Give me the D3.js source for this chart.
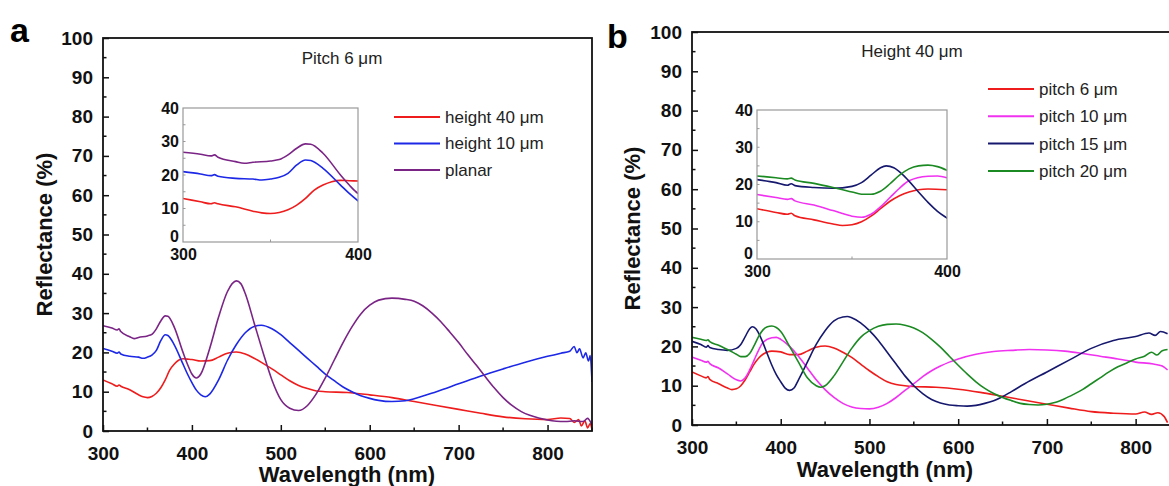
<!DOCTYPE html>
<html>
<head>
<meta charset="utf-8">
<script src="https://cdn.jsdelivr.net/npm/d3@7"></script>
<style>
  body { margin: 0; background: #fff; }
  svg { display: block; font-family: "Liberation Sans", Arial, sans-serif; }
</style>
</head>
<body>
<svg id="chart" width="1169" height="486"></svg>
<script>

// ---- data: [wavelength nm, reflectance %] ----
var aHeight40 = [[300,13],[310,12],[316,11.4],[318,11.7],[320,11.4],[330,10.5],[340,9.2],[345,8.7],[350,8.5],[355,8.8],[360,9.6],[365,11],[370,13],[375,15.5],[380,17],[385,18],[390,18.4],[395,18.3],[400,18.2],[410,17.8],[420,17.9],[430,18.8],[440,19.8],[450,20.1],[460,19.6],[470,18.5],[480,17.2],[490,15.8],[500,14.3],[510,12.8],[520,11.6],[530,10.8],[540,10.2],[550,10],[575,9.8],[600,9.2],[625,8.5],[650,7.5],[675,6.5],[700,5.5],[725,4.5],[750,3.6],[775,3.1],[800,2.9],[815,3.3],[825,3.2],[830,2.2],[835,2.9],[838,1.3],[842,2.6],[845,0.8],[848,1.9],[850,0.3]];
var aHeight10 = [[300,21],[310,20.3],[316,19.8],[318,20.1],[320,19.6],[330,19],[340,18.8],[345,18.5],[350,18.8],[355,19.3],[360,20.5],[365,23],[370,24.5],[373,24.3],[380,22],[390,17],[395,14.5],[400,12.3],[405,10.4],[410,9.2],[415,8.7],[420,9.4],[430,13],[440,18],[450,22],[460,25],[470,26.6],[478,26.9],[490,26],[500,24.5],[510,22.5],[520,20.5],[530,18.5],[540,16.5],[550,14.5],[560,12.8],[570,11.2],[580,10],[590,9],[600,8.3],[610,7.8],[625,7.5],[640,7.7],[650,8.2],[675,10],[700,12],[725,14],[750,15.8],[775,17.5],[800,19],[815,19.8],[825,20.3],[830,21.5],[833,19.9],[836,20.9],[840,18.6],[843,19.9],[846,17.8],[848,19.2],[850,12.5]];
var aPlanar = [[300,26.8],[310,26.2],[316,25.7],[318,26],[320,25.3],[330,24],[335,23.5],[340,23.8],[350,24.2],[355,24.6],[360,26],[365,28],[370,29.3],[373,29.2],[380,26.5],[390,20],[395,17],[400,14.5],[405,13.5],[410,14.5],[420,21],[430,29],[440,35.5],[450,38.2],[455,37.5],[460,35],[470,27.5],[480,20],[490,13],[500,8],[510,5.8],[520,5.2],[530,6.5],[540,9.5],[550,13.5],[560,18],[570,22.5],[580,26.5],[590,29.8],[600,32],[610,33.3],[625,33.8],[640,33.5],[650,33],[660,31.8],[670,30],[680,27.8],[690,25.2],[700,22.5],[710,19.5],[720,16.7],[730,13.8],[740,11],[750,8.5],[760,6.5],[770,5],[780,4],[790,3.3],[800,2.8],[810,2.5],[820,2.4],[830,2.6],[840,2.4],[845,3.2],[850,1.5]];

var bPitch6 = [[300,13.5],[310,12.5],[316,12],[318,12.3],[320,11.6],[330,10.5],[340,9.4],[345,9],[350,9.2],[355,10],[360,11.5],[365,13.5],[370,15.5],[375,17],[380,18],[385,18.6],[390,18.8],[400,18.6],[410,17.9],[420,17.9],[430,18.8],[440,19.8],[450,20.1],[460,19.6],[470,18.5],[480,17.2],[490,15.5],[500,13.8],[510,12.3],[520,11],[530,10.3],[540,10],[550,9.8],[575,9.6],[600,9.1],[625,8.3],[650,7.3],[675,6.3],[700,5.3],[725,4.3],[750,3.4],[775,3],[800,2.8],[810,3.3],[818,2.7],[825,3.1],[832,2.2],[836,0.6]];
var bPitch10 = [[300,17.3],[310,16.5],[316,16],[318,16.2],[320,15.6],[330,14.5],[340,13],[350,11.5],[355,11.2],[360,12],[365,14],[370,16.5],[375,19],[380,21],[390,22.2],[395,22.3],[400,21.8],[410,20],[420,17.5],[430,14.5],[440,11.5],[450,9],[460,7],[470,5.5],[480,4.6],[490,4.2],[500,4.1],[510,4.5],[520,5.5],[530,7],[540,8.8],[550,10.5],[560,12.3],[570,13.8],[580,15],[590,16],[600,16.8],[620,18],[640,18.7],[660,19],[680,19.2],[700,19.1],[720,18.8],[740,18.2],[760,17.5],[780,16.8],[800,16],[820,15.5],[830,15],[836,14]];
var bPitch15 = [[300,21.3],[310,20.5],[316,19.8],[318,20.2],[320,19.7],[330,19.2],[340,19],[350,19.5],[355,20.5],[360,22.5],[365,24.5],[368,25],[372,24.5],[378,22],[385,18],[390,15.2],[395,12.8],[400,11],[405,9.4],[410,8.8],[415,9.4],[420,11.5],[430,16],[440,20.5],[450,24],[460,26.5],[470,27.5],[475,27.6],[480,27.3],[490,26],[500,24],[510,21.5],[520,18.5],[530,15.5],[540,12.5],[550,10],[560,8],[570,6.5],[580,5.6],[590,5.1],[600,4.9],[610,4.8],[620,5],[630,5.5],[640,6.2],[650,7.2],[660,8.5],[675,10.5],[700,13.5],[725,16.5],[750,19.5],[775,21.5],[800,22.5],[815,23.4],[822,22.8],[828,23.8],[836,23.2]];
var bPitch20 = [[300,22.3],[310,21.8],[316,21.5],[318,21.7],[320,21.2],[330,20.3],[340,19.2],[350,18],[355,17.4],[360,17.4],[365,18.2],[370,20.2],[375,22.5],[380,24.2],[385,25],[390,25.2],[395,24.8],[400,23.8],[410,20],[420,16],[430,12],[440,10],[445,9.6],[450,10],[460,12.5],[470,16],[480,19.5],[490,22.3],[500,24],[510,25.1],[520,25.6],[530,25.7],[540,25.4],[550,24.7],[560,23.5],[570,21.8],[580,19.8],[590,17.5],[600,15.2],[610,13],[620,11],[630,9.3],[640,8],[650,7],[660,6.2],[670,5.5],[680,5.2],[690,5.1],[700,5.3],[710,5.8],[720,6.7],[730,7.8],[740,9],[750,10.5],[760,12],[770,13.5],[780,14.8],[790,15.8],[800,16.8],[810,17.5],[818,18.5],[824,17.8],[830,18.9],[836,19.2]];

var panelASeries = [
  { name: "height 40 \u03bcm", color: "#ee1c1c", values: aHeight40 },
  { name: "height 10 \u03bcm", color: "#1c28e6", values: aHeight10 },
  { name: "planar",          color: "#7a2486", values: aPlanar }
];
var panelBSeries = [
  { name: "pitch 6 \u03bcm",  color: "#ee1c1c", values: bPitch6 },
  { name: "pitch 10 \u03bcm", color: "#f032f0", values: bPitch10 },
  { name: "pitch 15 \u03bcm", color: "#16186e", values: bPitch15 },
  { name: "pitch 20 \u03bcm", color: "#1b8a22", values: bPitch20 }
];

var xTicks = [300, 400, 500, 600, 700, 800];
var yTicks = [0, 10, 20, 30, 40, 50, 60, 70, 80, 90, 100];
var insetXTicks = [300, 400];
var insetYTicks = [0, 10, 20, 30, 40];

var svg = d3.select("#chart");
var clipId = 0;

function drawPanel(p) {
  var g = svg.append("g");
  var x = d3.scaleLinear().domain([300, 850]).range([p.left, p.right]);
  var y = d3.scaleLinear().domain([0, 100]).range([p.bottom, p.top]);

  // inward ticks, majors + minors
  var xAxis = d3.axisBottom(x).tickValues(xTicks).tickSizeInner(-6).tickSizeOuter(0).tickPadding(22);
  var yAxis = d3.axisLeft(y).tickValues(yTicks).tickSizeInner(-6).tickSizeOuter(0).tickPadding(10);

  var gx = g.append("g").attr("transform", "translate(0," + p.bottom + ")").call(xAxis);
  var gy = g.append("g").attr("transform", "translate(" + p.left + ",0)").call(yAxis);
  [gx, gy].forEach(function(a) {
    a.select(".domain").remove();
    a.selectAll("line").attr("stroke", "#111").attr("stroke-width", 1.5);
    a.selectAll("text").attr("font-size", 19).attr("font-weight", "bold").attr("fill", "#111");
  });
  gx.selectAll("text").attr("dy", "0.35em");

  g.append("g").selectAll("line").data(d3.range(350, 851, 100)).join("line")
    .attr("x1", function(d) { return x(d); }).attr("x2", function(d) { return x(d); })
    .attr("y1", p.bottom).attr("y2", p.bottom - 3.5)
    .attr("stroke", "#111").attr("stroke-width", 1.5);
  g.append("g").selectAll("line").data(d3.range(5, 100, 10)).join("line")
    .attr("x1", p.left).attr("x2", p.left + 3.5)
    .attr("y1", function(d) { return y(d); }).attr("y2", function(d) { return y(d); })
    .attr("stroke", "#111").attr("stroke-width", 1.5);

  // curves
  var cid = "clip" + (clipId++);
  svg.append("clipPath").attr("id", cid).append("rect")
    .attr("x", p.left).attr("y", p.top).attr("width", p.right - p.left).attr("height", p.bottom - p.top);
  var line = d3.line().curve(d3.curveMonotoneX)
    .x(function(d) { return x(d[0]); }).y(function(d) { return y(d[1]); });
  g.append("g").attr("clip-path", "url(#" + cid + ")").selectAll("path").data(p.series).join("path")
    .attr("d", function(s) { return line(s.values); })
    .attr("fill", "none").attr("stroke", function(s) { return s.color; }).attr("stroke-width", 1.6);

  // frame
  g.append("rect").attr("x", p.left).attr("y", p.top)
    .attr("width", p.right - p.left).attr("height", p.bottom - p.top)
    .attr("fill", "none").attr("stroke", "#111").attr("stroke-width", 1.8);

  // inset
  var ix = d3.scaleLinear().domain([300, 400]).range([p.inset.left, p.inset.right]);
  var iy = d3.scaleLinear().domain([0, 40]).range([p.inset.bottom, p.inset.top]);
  g.append("rect").attr("x", p.inset.left).attr("y", p.inset.top)
    .attr("width", p.inset.right - p.inset.left).attr("height", p.inset.bottom - p.inset.top)
    .attr("fill", "#fff");
  var iid = "clip" + (clipId++);
  svg.append("clipPath").attr("id", iid).append("rect")
    .attr("x", p.inset.left).attr("y", p.inset.top)
    .attr("width", p.inset.right - p.inset.left).attr("height", p.inset.bottom - p.inset.top);
  var iline = d3.line().curve(d3.curveMonotoneX)
    .x(function(d) { return ix(d[0]); }).y(function(d) { return iy(d[1]); });
  g.append("g").attr("clip-path", "url(#" + iid + ")").selectAll("path").data(p.series).join("path")
    .attr("d", function(s) { return iline(s.values.filter(function(v) { return v[0] <= 405; })); })
    .attr("fill", "none").attr("stroke", function(s) { return s.color; }).attr("stroke-width", 1.6);

  var igx = g.append("g").attr("transform", "translate(0," + p.inset.bottom + ")")
    .call(d3.axisBottom(ix).tickValues(insetXTicks).tickSize(0).tickPadding(7));
  var igy = g.append("g").attr("transform", "translate(" + p.inset.left + ",0)")
    .call(d3.axisLeft(iy).tickValues(insetYTicks).tickSize(0).tickPadding(4));
  [igx, igy].forEach(function(a) {
    a.select(".domain").remove();
    a.selectAll("text").attr("font-size", 16).attr("font-weight", "bold").attr("fill", "#111");
  });
  // the "0" sits tucked just above the "300" in the original
  igy.selectAll("text").filter(function(d) { return d === 0; }).attr("dy", "-0.02em");
  g.append("g").selectAll("line").data(d3.range(5, 40, 5)).join("line")
    .attr("x1", p.inset.left).attr("x2", p.inset.left + 2.5)
    .attr("y1", function(d) { return iy(d); }).attr("y2", function(d) { return iy(d); })
    .attr("stroke", "#999").attr("stroke-width", 1);
  g.append("line").attr("x1", ix(350)).attr("x2", ix(350))
    .attr("y1", p.inset.bottom).attr("y2", p.inset.bottom - 2.5)
    .attr("stroke", "#999").attr("stroke-width", 1);
  g.append("rect").attr("x", p.inset.left).attr("y", p.inset.top)
    .attr("width", p.inset.right - p.inset.left).attr("height", p.inset.bottom - p.inset.top)
    .attr("fill", "none").attr("stroke", "#999").attr("stroke-width", 1.2);

  // legend
  var lg = g.append("g").selectAll("g").data(p.series).join("g")
    .attr("transform", function(s, i) { return "translate(" + p.legend.x + "," + (p.legend.y + i * p.legend.dy) + ")"; });
  lg.append("line").attr("x1", 0).attr("x2", p.legend.len)
    .attr("stroke", function(s) { return s.color; }).attr("stroke-width", 2);
  lg.append("text").attr("x", p.legend.len + 5).attr("dy", "0.35em")
    .attr("font-size", 17).attr("fill", "#222").text(function(s) { return s.name; });

  // texts
  g.append("text").attr("x", p.title.x).attr("y", p.title.y).attr("text-anchor", "middle")
    .attr("font-size", 17).attr("fill", "#222").text(p.title.text);
  g.append("text").attr("x", p.xLabelX).attr("y", p.xLabelY).attr("text-anchor", "middle")
    .attr("font-size", 22).attr("font-weight", "bold").attr("fill", "#111").text("Wavelength (nm)");
  g.append("text").attr("transform", "translate(" + p.yLabelX + "," + ((p.top + p.bottom) / 2) + ") rotate(-90)")
    .attr("text-anchor", "middle").attr("font-size", 22).attr("font-weight", "bold").attr("fill", "#111")
    .text("Reflectance (%)");
  g.append("text").attr("x", p.tag.x).attr("y", p.tag.y)
    .attr("font-size", 34).attr("font-weight", "bold").attr("fill", "#000").text(p.tag.text);
}

drawPanel({
  left: 103, right: 592, top: 38, bottom: 431,
  series: panelASeries,
  inset: { left: 183, right: 358, top: 108, bottom: 242 },
  legend: { x: 394, y: 117, dy: 26.5, len: 46 },
  title: { text: "Pitch 6 \u03bcm", x: 342, y: 64 },
  xLabelX: 347, xLabelY: 482, yLabelX: 52,
  tag: { text: "a", x: 10, y: 42 }
});

drawPanel({
  left: 692, right: 1180, top: 32, bottom: 425,
  series: panelBSeries,
  inset: { left: 757, right: 947, top: 110, bottom: 259 },
  legend: { x: 988, y: 89, dy: 27.3, len: 46 },
  title: { text: "Height 40 \u03bcm", x: 912, y: 57 },
  xLabelX: 885, xLabelY: 477, yLabelX: 640,
  tag: { text: "b", x: 607, y: 48 }
});

</script>
</body>
</html>
